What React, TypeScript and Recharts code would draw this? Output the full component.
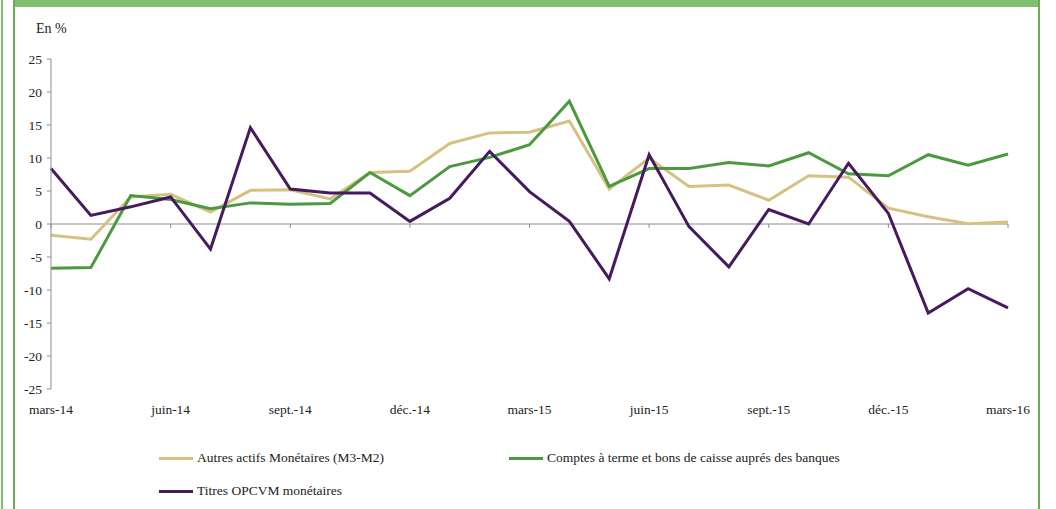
import React from "react";
import { LineChart, Line, XAxis, YAxis, ReferenceLine } from "recharts";

const months = [
  "mars-14", "avr.-14", "mai-14", "juin-14", "juil.-14", "août-14", "sept.-14", "oct.-14", "nov.-14",
  "déc.-14", "janv.-15", "févr.-15", "mars-15", "avr.-15", "mai-15", "juin-15", "juil.-15", "août-15",
  "sept.-15", "oct.-15", "nov.-15", "déc.-15", "janv.-16", "févr.-16", "mars-16",
];

const autresActifs = [
  -1.7, -2.3, 4.1, 4.5, 1.8, 5.1, 5.2, 3.8, 7.8, 8.0, 12.2, 13.8, 13.9, 15.6, 5.3, 10.0, 5.7, 5.9,
  3.6, 7.3, 7.1, 2.4, 1.1, 0.05, 0.3,
];

const comptesTerme = [
  -6.7, -6.6, 4.3, 3.7, 2.3, 3.2, 3.0, 3.1, 7.8, 4.3, 8.7, 10.1, 12.0, 18.6, 5.7, 8.4, 8.4, 9.3,
  8.8, 10.8, 7.6, 7.3, 10.5, 8.9, 10.6,
];

const titresOpcvm = [
  8.4, 1.3, 2.6, 4.1, -3.8, 14.6, 5.3, 4.7, 4.7, 0.4, 3.9, 11.0, 4.9, 0.4, -8.3, 10.5, -0.4, -6.5,
  2.2, 0.0, 9.2, 1.6, -13.5, -9.8, -12.7,
];

const xTicks = ["mars-14", "juin-14", "sept.-14", "déc.-14", "mars-15", "juin-15", "sept.-15", "déc.-15", "mars-16"];
const yTicks = [-25, -20, -15, -10, -5, 0, 5, 10, 15, 20, 25];

const seriesNames = {
  autres: "Autres actifs Monétaires (M3-M2)",
  comptes: "Comptes à terme et bons de caisse auprés des banques",
  titres: "Titres OPCVM monétaires",
};
const colors = { autres: "#d5c283", comptes: "#4c9a40", titres: "#451a5e" };

const data = months.map((m, i) => ({
  month: m,
  autres: autresActifs[i],
  comptes: comptesTerme[i],
  titres: titresOpcvm[i],
}));

const FONT = "'Liberation Serif', 'DejaVu Serif', 'Times New Roman', serif";
const FS = 13.5;

const XTick = (props: any) => {
  const { x, y, payload } = props;
  return (
    <text x={x} y={y} dy={25} textAnchor="middle" fontFamily={FONT} fontSize={FS} fill="#222">
      {payload.value}
    </text>
  );
};

const legendItems = [
  { key: "autres", left: 159, top: 451 },
  { key: "comptes", left: 509, top: 451 },
  { key: "titres", left: 159, top: 484 },
] as const;

export default function App() {
  return (
    <div style={{ position: "absolute", left: 0, top: 0, width: 1056, height: 509, background: "#fff", overflow: "hidden" }}>
      <div style={{ position: "absolute", left: 1, top: 0, width: 2, height: 509, background: "#7fbd6f" }} />
      <div style={{ position: "absolute", left: 13, top: 0, width: 1027, height: 7, background: "#80bf6f" }} />
      <div style={{ position: "absolute", left: 13, top: 0, width: 2, height: 509, background: "#6aab5a" }} />
      <div style={{ position: "absolute", left: 1038, top: 0, width: 2, height: 509, background: "#6aab5a" }} />
      <div style={{ position: "absolute", left: 36, top: 21, fontFamily: FONT, fontSize: 14, color: "#222", lineHeight: "15px" }}>En %</div>
      <div style={{ position: "absolute", left: 0, top: 0 }}>
        <LineChart width={1056} height={509} data={data} margin={{ top: 59, right: 48, bottom: 90, left: 0 }}>
          <XAxis
            dataKey="month"
            ticks={xTicks}
            interval={0}
            axisLine={false}
            tickLine={false}
            tickSize={0}
            tickMargin={0}
            height={30}
            tick={<XTick />}
          />
          <YAxis
            domain={[-25, 25]}
            ticks={yTicks}
            interval={0}
            width={51}
            tickSize={4}
            tickMargin={5}
            axisLine={{ stroke: "#8c8c8c", strokeWidth: 1 }}
            tickLine={{ stroke: "#8c8c8c" }}
            tick={{ fontFamily: FONT, fontSize: FS, fill: "#222" }}
          />
          <ReferenceLine y={0} stroke="#8c8c8c" strokeWidth={1} />
          {xTicks.map((t) => (
            <ReferenceLine
              key={t}
              segment={[{ x: t, y: 0 }, { x: t, y: -0.6 }]}
              stroke="#8c8c8c"
              strokeWidth={1}
            />
          ))}
          <Line type="linear" dataKey="autres" name={seriesNames.autres} stroke={colors.autres} strokeWidth={3} dot={false} isAnimationActive={false} />
          <Line type="linear" dataKey="comptes" name={seriesNames.comptes} stroke={colors.comptes} strokeWidth={3} dot={false} isAnimationActive={false} />
          <Line type="linear" dataKey="titres" name={seriesNames.titres} stroke={colors.titres} strokeWidth={3} dot={false} isAnimationActive={false} />
        </LineChart>
      </div>
      {legendItems.map((it) => (
        <div key={it.key} style={{ position: "absolute", left: it.left, top: it.top, height: 14, display: "flex", alignItems: "center" }}>
          <div style={{ width: 34, height: 3, background: (colors as any)[it.key] }} />
          <span style={{ marginLeft: 4, fontFamily: FONT, fontSize: FS, color: "#222", lineHeight: "14px", whiteSpace: "nowrap" }}>
            {(seriesNames as any)[it.key]}
          </span>
        </div>
      ))}
    </div>
  );
}
